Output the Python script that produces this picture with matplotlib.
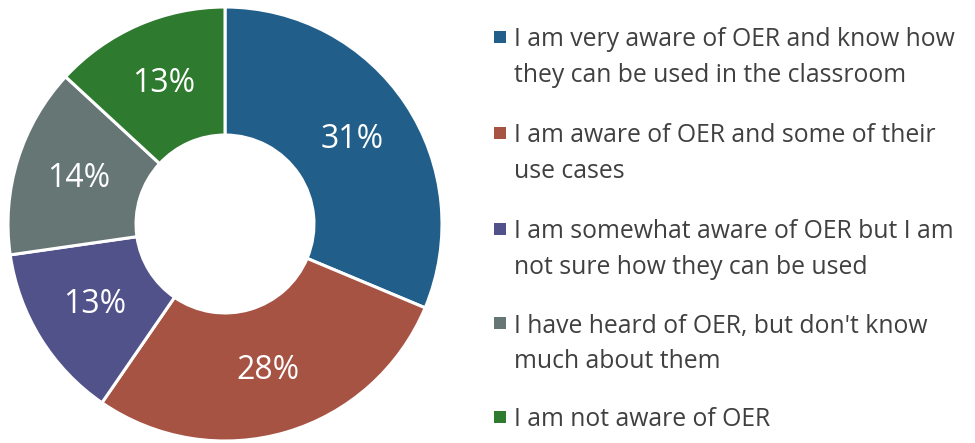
import matplotlib.pyplot as plt
from matplotlib.patches import Rectangle

plt.rcParams['font.family'] = ['Open Sans', 'DejaVu Sans']

# survey answers, share in percent
answers = [
    "I am very aware of OER and know how\nthey can be used in the classroom",
    "I am aware of OER and some of their\nuse cases",
    "I am somewhat aware of OER but I am\nnot sure how they can be used",
    "I have heard of OER, but don't know\nmuch about them",
    "I am not aware of OER",
]
shares = [31, 28, 13, 14, 13]
colours = ["#215F8A", "#A65343", "#52528B", "#667675", "#2E7A2F"]

W, H = 975, 443
fig = plt.figure(figsize=(W / 100, H / 100), dpi=100)

# donut centred at (225, 224) px, outer radius 217 px
ax = fig.add_axes([8 / W, (H - 224 - 217) / H, 434 / W, 434 / H])
wedges, texts, autotexts = ax.pie(
    shares, colors=colours, startangle=90, counterclock=False,
    radius=1, autopct='%.0f%%', pctdistance=0.705,
    wedgeprops=dict(width=0.59, edgecolor='white', linewidth=2.2),
    textprops=dict(color='white', fontsize=23),
)
ax.set_xlim(-1, 1)
ax.set_ylim(-1, 1)
ax.set_aspect('equal')
ax.axis('off')

# legend on the right, drawn by hand to follow the original spacing
item_y = [37, 133, 229, 323, 417]
for lab, col, y in zip(answers, colours, item_y):
    fig.patches.append(Rectangle(((500 - 6) / W, (H - y - 6) / H), 12 / W, 12 / H,
                                 transform=fig.transFigure, facecolor=col, edgecolor='none'))
    lines = lab.split("\n")
    for i, line in enumerate(lines):
        fig.text(514 / W, (H - y - i * 35) / H, line, fontsize=17.8, color='#404040',
                 va='center_baseline', ha='left')

fig.savefig("out.png", dpi=100)
